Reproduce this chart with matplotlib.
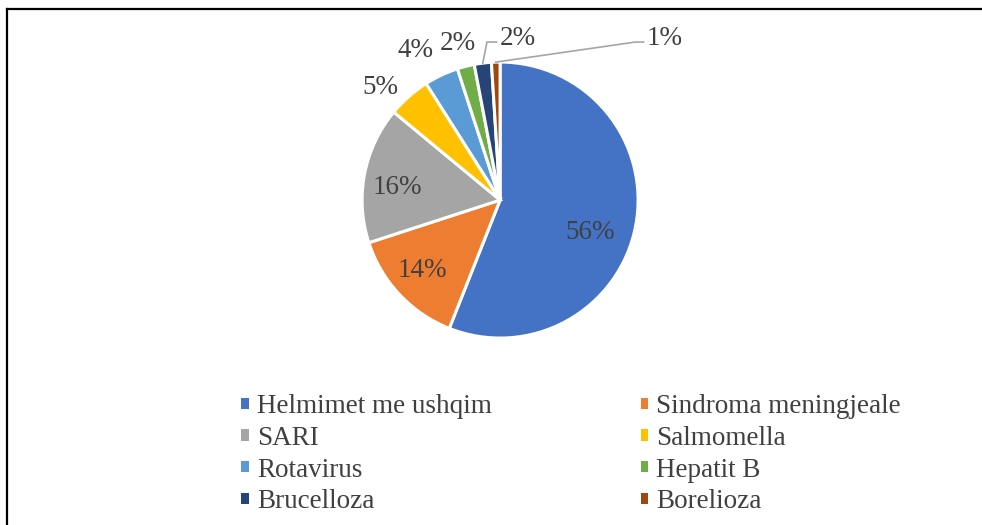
import matplotlib.pyplot as plt
import numpy as np
from matplotlib.lines import Line2D
from matplotlib.patches import Patch

plt.rcParams['font.family'] = ['Liberation Serif', 'DejaVu Serif']

categories = ['Helmimet me ushqim', 'Sindroma meningjeale', 'SARI', 'Salmomella',
              'Rotavirus', 'Hepatit B', 'Brucelloza', 'Borelioza']
shares = [56, 14, 16, 5, 4, 2, 2, 1]
colors = ['#4472C4', '#ED7D31', '#A5A5A5', '#FFC000',
          '#5B9BD5', '#70AD47', '#264478', '#9E480E']

# label placement: radius (in pie radii) and angle shift (deg) for each slice label
label_r = [0.69, 0.75, 0.75, 1.2, 1.26, 1.19, None, None]
label_shift = [-7.6, -2, 2.5, 5, 4, 0.5, 0, 0]

fig = plt.figure(figsize=(9.82, 5.25), dpi=100)
ax = fig.add_axes([0.3687, 0.3561, 0.2811, 0.5257])
wedges, _ = ax.pie(shares, colors=colors, startangle=90, counterclock=False,
                   radius=1, wedgeprops=dict(edgecolor='white', linewidth=2.2))
ax.set_xlim(-1, 1)
ax.set_ylim(-1, 1)
ax.set_aspect('equal')

txt_color = '#404040'
fs = 19.5
for i, w in enumerate(wedges):
    mid = np.deg2rad((w.theta1 + w.theta2) / 2)
    lab = f'{shares[i]}%'
    if label_r[i] is not None:
        r = label_r[i]
        ang = mid + np.deg2rad(label_shift[i])
        ax.text(r * np.cos(ang), r * np.sin(ang) - 0.015, lab, ha='center', va='center',
                fontsize=fs, color=txt_color)
    else:
        x0, y0 = 1.0 * np.cos(mid), 1.0 * np.sin(mid)
        if i == 6:
            xk, yk, xe = x0 + 0.03, 1.145, x0 + 0.1
        else:
            xk, yk, xe = 0.98, 1.145, 1.04
        ax.plot([x0, xk, xe], [y0, yk, yk], color='#A6A6A6', lw=1.2, clip_on=False)
        ax.text(xe + 0.02, yk + 0.025, lab, ha='left', va='center',
                fontsize=fs, color=txt_color)

# legend filled row by row (matplotlib fills columns first)
order = [0, 2, 4, 6, 1, 3, 5, 7]
handles = [Patch(facecolor=colors[k], edgecolor='none') for k in order]
labels = [categories[k] for k in order]
fig.legend(handles, labels, ncol=2, loc='center', bbox_to_anchor=(0.5815, 0.135),
           frameon=False, fontsize=fs, handlelength=0.27, handleheight=0.27,
           handletextpad=0.3, columnspacing=5.5, labelspacing=0.25,
           labelcolor=txt_color)

# frame fragment (top and left edges)
fig.add_artist(Line2D([0.0075, 1.0], [0.9825, 0.9825], color='black', lw=1.6))
fig.add_artist(Line2D([0.0075, 0.0075], [0.0, 0.9825], color='black', lw=1.6))

fig.savefig('out.png', dpi=100)
